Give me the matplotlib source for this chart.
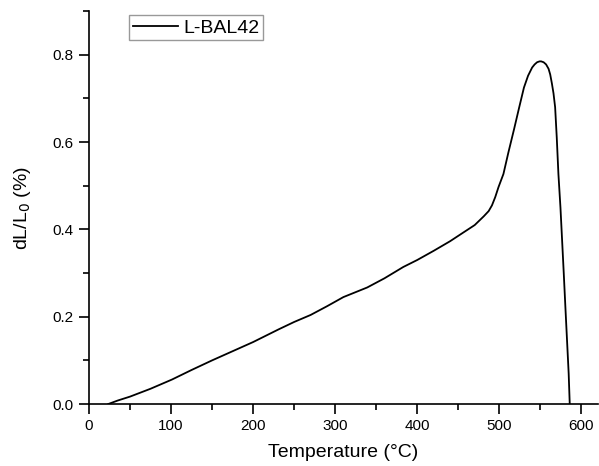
import matplotlib.pyplot as plt
from matplotlib.ticker import MultipleLocator

plt.rcParams['font.family'] = ['Liberation Sans', 'DejaVu Sans']

# Dilatometer curve, L-BAL42
temperature = [23.5, 35, 50, 75, 101, 125, 150, 175, 200, 231, 250, 270, 290,
               310, 339, 360, 383, 400, 420, 440, 457, 470, 481, 487, 491,
               495, 499, 505, 511, 518, 524, 530, 535, 540, 543, 546, 549,
               551, 554, 557, 560, 562, 564, 566, 568, 570, 572, 574.5, 576.5,
               578.5, 580.5, 582.5, 584.5, 585.8]
dl_l0 = [0.0, 0.008, 0.017, 0.035, 0.056, 0.078, 0.100, 0.121, 0.142, 0.171,
         0.188, 0.204, 0.224, 0.245, 0.267, 0.288, 0.314, 0.330, 0.351,
         0.373, 0.394, 0.410, 0.430, 0.442, 0.455, 0.474, 0.497, 0.527,
         0.576, 0.630, 0.678, 0.725, 0.752, 0.771, 0.778, 0.783, 0.785,
         0.785, 0.783, 0.778, 0.768, 0.755, 0.735, 0.712, 0.680, 0.610,
         0.527, 0.450, 0.375, 0.300, 0.222, 0.146, 0.070, 0.0]

fig = plt.figure(figsize=(5.99, 4.66), dpi=100)
ax = fig.add_axes([0.1486, 0.133, 0.8494, 0.843])

ax.plot(temperature, dl_l0, color="black", linewidth=1.3, label="L-BAL42")

ax.set_xlim(0, 620)
ax.set_ylim(0, 0.9)
ax.xaxis.set_major_locator(MultipleLocator(100))
ax.xaxis.set_minor_locator(MultipleLocator(50))
ax.yaxis.set_major_locator(MultipleLocator(0.2))
ax.yaxis.set_minor_locator(MultipleLocator(0.1))
ax.yaxis.set_major_formatter(lambda v, pos: "%.1f" % v)

for side in ("top", "right"):
    ax.spines[side].set_visible(False)
for side in ("left", "bottom"):
    ax.spines[side].set_linewidth(1.2)
ax.tick_params(which="major", direction="out", length=7, width=1.2, labelsize=11, pad=4)
ax.tick_params(which="minor", direction="out", length=4, width=1.2)

ax.set_xlabel("Temperature (°C)", fontsize=14, labelpad=8)
ax.set_ylabel("dL/L$_0$ (%)", fontsize=14, labelpad=14)

ax.legend(loc="upper left", bbox_to_anchor=(0.071, 1.0), fontsize=14,
          frameon=True, fancybox=False, edgecolor="#999999", framealpha=1,
          handlelength=2.3, handletextpad=0.3, borderpad=0.2, borderaxespad=0.2)

fig.savefig("out.png", dpi=100)
